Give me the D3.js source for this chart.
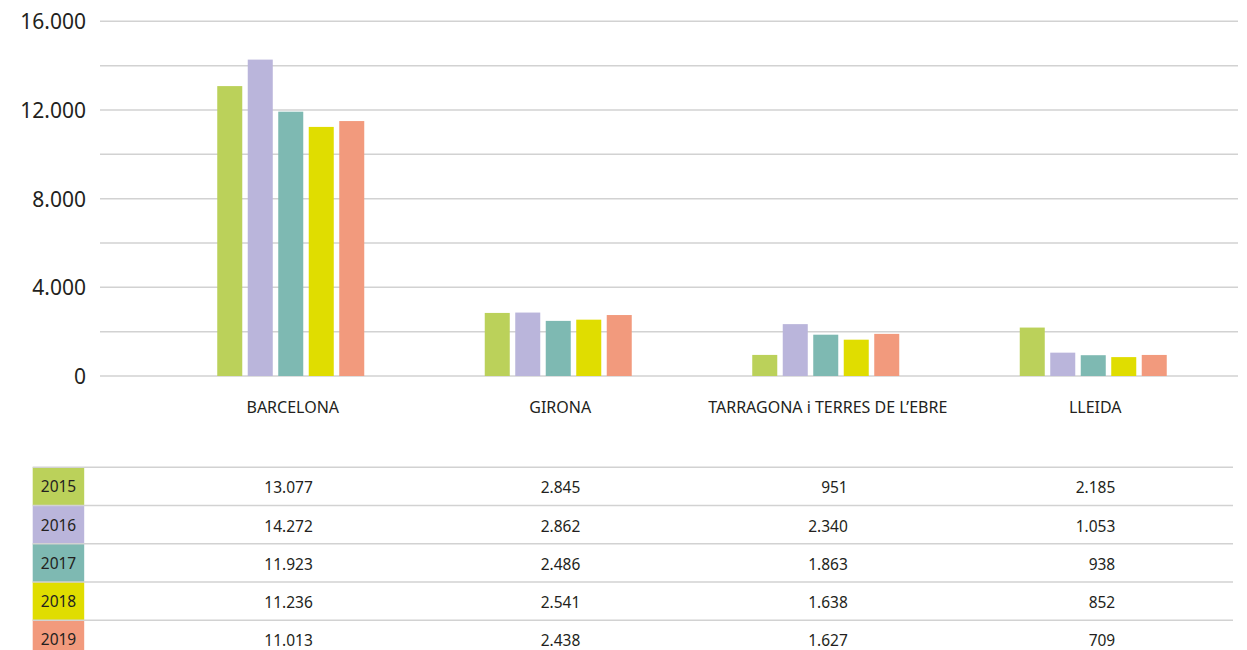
<!DOCTYPE html>
<html>
<head>
<meta charset="utf-8">
<script src="https://cdn.jsdelivr.net/npm/d3@7"></script>
<style>
  body { margin: 0; background: #fff; }
  svg { display: block; font-family: "Noto Sans", sans-serif; }
</style>
</head>
<body>
<div id="chart"></div>
<script>
const categories = ["BARCELONA", "GIRONA", "TARRAGONA i TERRES DE L\u2019EBRE", "LLEIDA"];
const years = ["2015", "2016", "2017", "2018", "2019"];

// table values per year (same order as categories)
const values2015 = [13077, 2845, 951, 2185];
const values2016 = [14272, 2862, 2340, 1053];
const values2017 = [11923, 2486, 1863, 938];
const values2018 = [11236, 2541, 1638, 852];
const values2019 = [11013, 2438, 1627, 709];
// the 2019 bars in the picture are taller than the table says
const bars2019 = [11500, 2750, 1900, 950];

const yTicks = [0, 4000, 8000, 12000, 16000];
const yGrid = [0, 2000, 4000, 6000, 8000, 10000, 12000, 14000, 16000];

const colors = ["#bbd15a", "#bab5db", "#7eb9b2", "#e0dd00", "#f29a7d"];

const tableValues = [values2015, values2016, values2017, values2018, values2019];
const barValues = [values2015, values2016, values2017, values2018, bars2019];

const width = 1247, height = 650;

const locale = d3.formatLocale({decimal: ",", thousands: ".", grouping: [3], currency: ["", "€"]});
const fmt = locale.format(",d");

const svg = d3.select("#chart").append("svg")
    .attr("width", width)
    .attr("height", height);

const y = d3.scaleLinear()
    .domain([0, 16000])
    .range([376, 21.3]);

const x0 = d3.scaleBand()
    .domain(categories)
    .range([157, 1227])
    .padding(0);

const x1 = d3.scaleBand()
    .domain(years)
    .range([0, 147])
    .paddingInner(0.18)
    .paddingOuter(0);

// grid
svg.append("g").selectAll("line")
    .data(yGrid).enter().append("line")
    .attr("x1", 100).attr("x2", 1238)
    .attr("y1", d => y(d)).attr("y2", d => y(d))
    .attr("stroke", "#d2d2d2")
    .attr("stroke-width", 1.5);

// y labels
svg.append("g").selectAll("text")
    .data(yTicks).enter().append("text")
    .attr("x", 86)
    .attr("y", d => y(d))
    .attr("dy", "0.38em")
    .attr("text-anchor", "end")
    .style("font-size", "21px")
    .attr("fill", "#231f20")
    .text(d => fmt(d));

// bars
const groups = svg.append("g").selectAll("g")
    .data(categories).enter().append("g")
    .attr("transform", d => `translate(${x0(d) + x0.bandwidth() / 2 - 73.5},0)`);

groups.selectAll("rect")
    .data((c, ci) => years.map((yr, i) => ({year: yr, i: i, v: barValues[i][ci]})))
    .enter().append("rect")
    .attr("x", d => x1(d.year))
    .attr("width", x1.bandwidth())
    .attr("y", d => y(d.v))
    .attr("height", d => y(0) - y(d.v))
    .attr("fill", d => colors[d.i]);

// category labels
svg.append("g").selectAll("text")
    .data(categories).enter().append("text")
    .attr("x", d => x0(d) + x0.bandwidth() / 2 + 2)
    .attr("y", 413)
    .attr("text-anchor", "middle")
    .style("font-size", "16px")
    .attr("fill", "#231f20")
    .text(d => d);

// table
const rowTop = 467.3, rowH = 38.25;

const rows = svg.append("g").selectAll("g")
    .data(years).enter().append("g")
    .attr("transform", (d, i) => `translate(0,${rowTop + i * rowH})`);

rows.append("rect")
    .attr("x", 32.7)
    .attr("width", 51.5)
    .attr("height", rowH)
    .attr("fill", (d, i) => colors[i]);

rows.append("text")
    .attr("x", 58.5)
    .attr("y", 25)
    .attr("text-anchor", "middle")
    .style("font-size", "15.5px")
    .attr("fill", "#231f20")
    .text(d => d);

rows.selectAll("text.val")
    .data((d, i) => categories.map((c, ci) => ({c: c, v: tableValues[i][ci]})))
    .enter().append("text")
    .attr("class", "val")
    .attr("x", d => x0(d.c) + x0.bandwidth() / 2 + 22)
    .attr("y", 26)
    .attr("text-anchor", "end")
    .style("font-size", "15.5px")
    .attr("fill", "#231f20")
    .text(d => fmt(d.v));

rows.append("line")
    .attr("x1", 32.7).attr("x2", 1233)
    .attr("y1", 0).attr("y2", 0)
    .attr("stroke", "#d2d2d2")
    .attr("stroke-width", 1.5);
</script>
</body>
</html>
